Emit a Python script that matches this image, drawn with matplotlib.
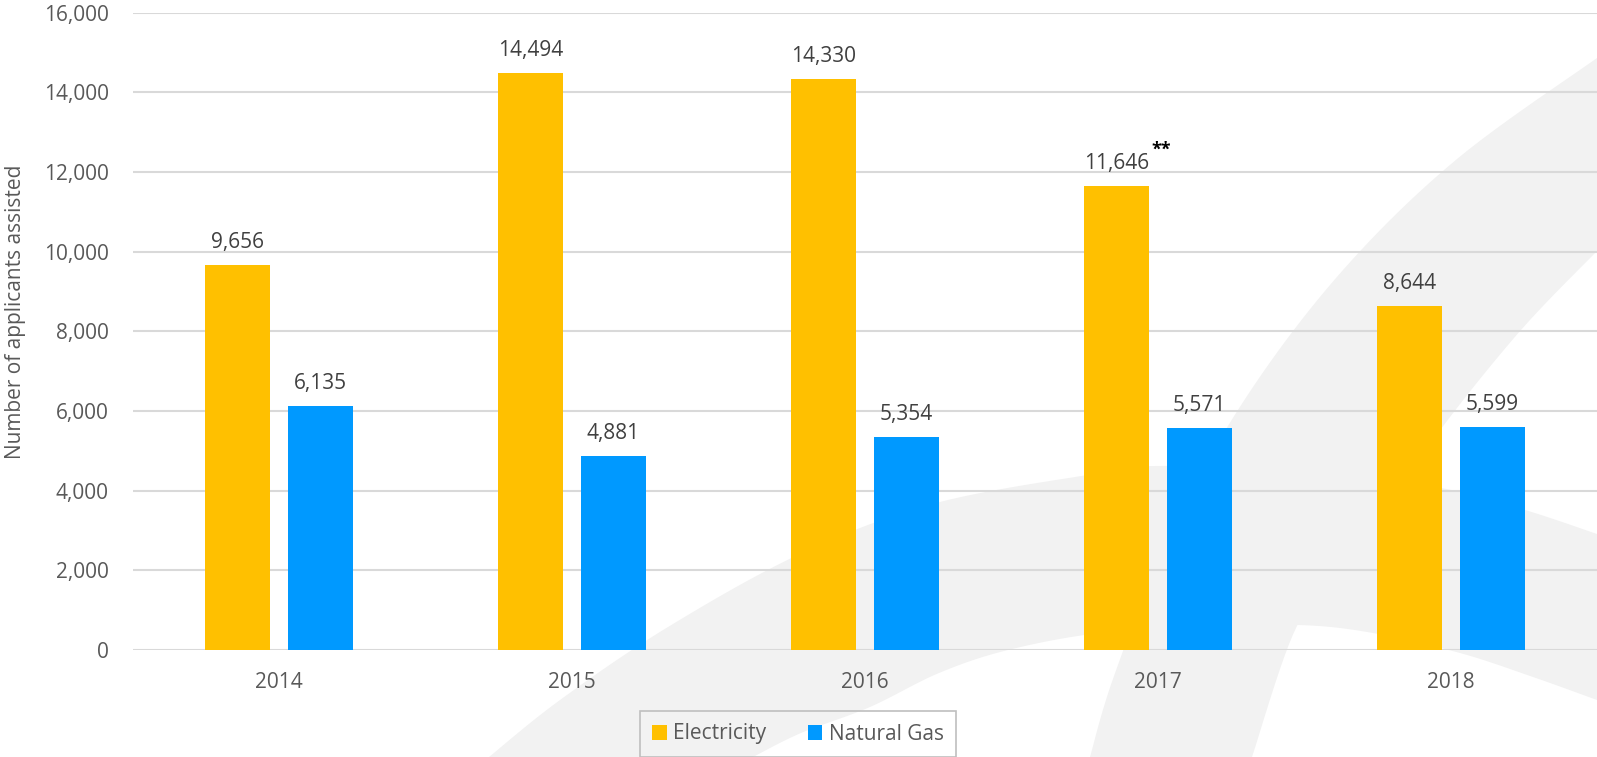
import numpy as np
import matplotlib
matplotlib.use("Agg")
import matplotlib.pyplot as plt
from matplotlib.patches import Polygon, Patch

plt.rcParams['font.family'] = ['Open Sans', 'DejaVu Sans']

## data
years = ["2014", "2015", "2016", "2017", "2018"]
electricity = [9656, 14494, 14330, 11646, 8644]
natural_gas = [6135, 4881, 5354, 5571, 5599]
series_names = ["Electricity", "Natural Gas"]
note_year = "2017"
note_mark = "**"

ELEC = "#FFC000"
GAS = "#0099FF"
TXT = "#595959"
GRID = "#D9D9D9"

W, H = 1597, 757
fig = plt.figure(figsize=(W / 100, H / 100), dpi=100)


def px(pts):
    # pixel coords (y down) -> figure fraction
    return [(x / W, 1 - y / H) for x, y in pts]


def smooth(pts, n=12):
    # catmull-rom through the points
    p = np.array(pts, dtype=float)
    p = np.vstack([p[0], p, p[-1]])
    out = []
    for i in range(1, len(p) - 2):
        p0, p1, p2, p3 = p[i - 1], p[i], p[i + 1], p[i + 2]
        for t in np.linspace(0, 1, n, endpoint=False):
            t2, t3 = t * t, t * t * t
            out.append(0.5 * ((2 * p1) + (-p0 + p2) * t + (2 * p0 - 5 * p1 + 4 * p2 - p3) * t2
                              + (-p0 + 3 * p1 - 3 * p2 + p3) * t3))
    out.append(p[-2])
    return [tuple(q) for q in out]


# background swoosh (decoration)
low_top = [(489, 757), (560, 700), (668, 627), (802, 553), (936, 503), (1100, 473),
           (1155, 466), (1300, 470), (1441, 488), (1525, 510), (1597, 534)]
low_bot = [(1597, 700), (1533, 677), (1460, 653), (1373, 633), (1298, 625), (1200, 628),
           (1100, 633), (1008, 650), (939, 673), (870, 707), (801, 733), (753, 757)]
big_out = [(1597, 58), (1457, 159), (1343, 270), (1247, 396), (1171, 531), (1114, 676), (1090, 757)]
big_in = [(1252, 757), (1297, 626), (1343, 580), (1419, 459), (1514, 338), (1597, 251)]

for shape in (smooth(low_top) + smooth(low_bot) + [(489, 757)],
              smooth(big_out) + smooth(big_in) + [(1597, 0)]):
    fig.patches.append(Polygon(px(shape), closed=True, transform=fig.transFigure,
                               facecolor="#F2F2F2", edgecolor="none", zorder=-5))

ax = fig.add_axes([132.5 / W, (H - 650) / H, 1465 / W, (650 - 12.7) / H])
ax.set_facecolor("none")

x = np.arange(len(years))
bw = 0.2235
off = 0.1416
b1 = ax.bar(x - off, electricity, bw, color=ELEC, zorder=3)
b2 = ax.bar(x + off, natural_gas, bw, color=GAS, zorder=3)

for bars, vals in ((b1, electricity), (b2, natural_gas)):
    for r, v in zip(bars, vals):
        ax.annotate(f"{v:,}", (r.get_x() + r.get_width() / 2, v), xytext=(0, 12.3),
                    textcoords="offset points", ha="center", va="baseline",
                    fontsize=15, color="#404040")

i = years.index(note_year)
ax.annotate(note_mark, (x[i] - off, electricity[i]), xytext=(25.5, 22.5),
            textcoords="offset points", ha="left", va="baseline",
            fontsize=13, fontweight="bold", color="black")

ax.set_xlim(-0.5, 4.5)
ax.set_ylim(0, 16000)
ax.set_yticks(range(0, 16001, 2000))
ax.set_yticklabels([f"{v:,}" for v in range(0, 16001, 2000)])
ax.set_xticks(x)
ax.set_xticklabels(years)
ax.tick_params(axis="both", length=0, labelsize=15, labelcolor=TXT)
ax.tick_params(axis="x", pad=15.8)
ax.tick_params(axis="y", pad=17)
ax.yaxis.grid(True, color=GRID, linewidth=1.5, zorder=0)
ax.set_axisbelow(True)
for s in ax.spines.values():
    s.set_visible(False)

fig.text(16 / W, 1 - 312 / H, "Number of applicants assisted", rotation=90,
         ha="center", va="center", fontsize=15, color=TXT)

handles = [Patch(facecolor=ELEC, edgecolor="none"), Patch(facecolor=GAS, edgecolor="none")]
leg = fig.legend(handles, series_names, loc="upper center", bbox_to_anchor=(798 / W, 1 - 711 / H),
                 ncol=2, fontsize=15, frameon=True, fancybox=False, framealpha=1,
                 handlelength=0.7, handleheight=0.7, handletextpad=0.3, columnspacing=2.0,
                 borderpad=0.6, borderaxespad=0, labelcolor=TXT)
leg.get_frame().set_facecolor("none")
leg.get_frame().set_edgecolor("#BFBFBF")
leg.get_frame().set_linewidth(1.2)

fig.savefig("out.png", dpi=100)
